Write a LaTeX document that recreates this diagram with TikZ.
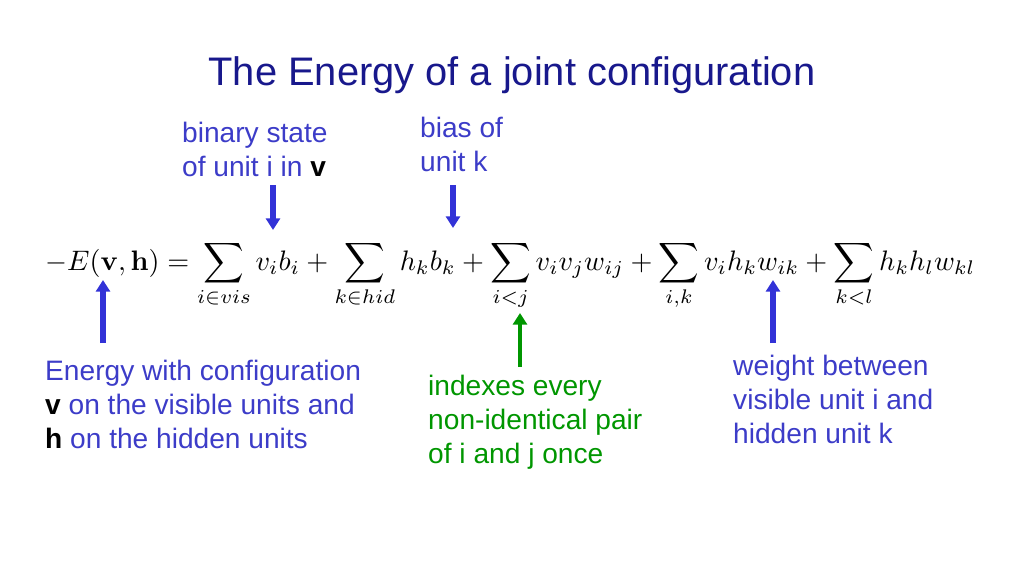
\documentclass[tikz,border=0pt]{standalone}
\usepackage{amsmath}
\usepackage[no-math]{fontspec}
\setmainfont{Liberation Sans}
\usetikzlibrary{arrows.meta,positioning}
\definecolor{navy}{RGB}{24,24,140}
\definecolor{labelblue}{RGB}{60,60,200}
\definecolor{arrowblue}{RGB}{50,50,215}
\definecolor{labelgreen}{RGB}{0,150,0}
\tikzset{
  lbl/.style={align=left, anchor=north west, inner sep=0pt, font=\fontsize{24}{29}\selectfont, text=labelblue},
  pointer/.style={-{Triangle[length=10pt,width=12pt]}, line width=4.5pt, draw=arrowblue, shorten >=0pt}
}
\begin{document}
\begin{tikzpicture}[x=0.03cm, y=-0.03cm]
\useasboundingbox (0,0) rectangle (1024,576);
\node[font=\fontsize{34}{40}\selectfont, text=navy] (title) at (512,75) {The Energy of a joint configuration};

\node[anchor=base west, inner sep=0pt] (formula) at (45,270) {\resizebox{27.9cm}{!}{$-E(\mathbf{v},\mathbf{h}) = \displaystyle\sum_{i\in vis} v_i b_i + \sum_{k\in hid} h_k b_k + \sum_{i<j} v_i v_j w_{ij} + \sum_{i,k} v_i h_k w_{ik} + \sum_{k<l} h_k h_l w_{kl}$}};

\node[lbl] (binary) at (182,122) {binary state\\of unit i in {\color{black}\textbf{v}}};
\node[lbl] (bias) at (420,117) {bias of\\unit k};
\node[lbl] (energy) at (45,360) {Energy with configuration\\{\color{black}\textbf{v}} on the visible units and\\{\color{black}\textbf{h}} on the hidden units};
\node[lbl, text=labelgreen] (pairs) at (428,375) {indexes every\\non-identical pair\\of i and j once};
\node[lbl] (weight) at (733,355) {weight between\\visible unit i and\\hidden unit k};

\coordinate (vb) at (273,230);
\coordinate (hb) at (453,228);
\coordinate (E) at (103,280);
\coordinate (ij) at (520,313);
\coordinate (wik) at (773,280);

\draw[pointer] (273,185) -- (vb);
\draw[pointer] (453,185) -- (hb);
\draw[pointer] (103,343) -- (E);
\draw[pointer, draw=labelgreen, line width=3pt] (520,367) -- (ij);
\draw[pointer] (773,343) -- (wik);
\end{tikzpicture}
\end{document}
